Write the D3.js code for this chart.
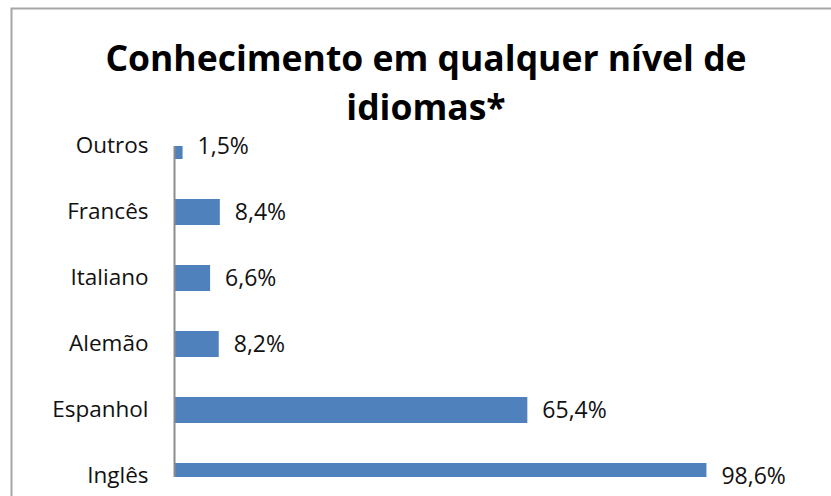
<!DOCTYPE html>
<html>
<head>
    <meta charset="utf-8">
    <script src="https://d3js.org/d3.v7.min.js"></script>
    <style>
        body { margin: 0; background: #fff; }
        text { font-family: "Open Sans", sans-serif; }
    </style>
</head>
<body>
	<svg id="chart" width="831" height="496"></svg>
	<script>
		var categories = ["Outros", "Francês", "Italiano", "Alemão", "Espanhol", "Inglês"];
		var values = [1.5, 8.4, 6.6, 8.2, 65.4, 98.6];
		var valueLabels = ["1,5%", "8,4%", "6,6%", "8,2%", "65,4%", "98,6%"];
		var titleLines = ["Conhecimento em qualquer nível de", "idiomas*"];

		var svg = d3.select("#chart"),
			width = +svg.attr("width"),
			height = +svg.attr("height");

		// chart frame (only top and left edges are visible)
		svg.append("path")
			.attr("d", "M11.5,496 V8.5 H831")
			.attr("fill", "none")
			.attr("stroke", "#a6a6a6")
			.attr("stroke-width", 2);

		// title
		svg.selectAll(".title")
			.data(titleLines)
			.enter()
			.append("text")
			.attr("class", "title")
			.attr("x", 426)
			.attr("y", function(d, i) { return 71 + i * 49; })
			.attr("text-anchor", "middle")
			.attr("font-size", 35.5)
			.attr("font-weight", "bold")
			.attr("fill", "#000")
			.text(function(d) { return d; });

		var x = d3.scaleLinear()
			.domain([0, 100])
			.range([174.5, 714]);

		var y = d3.scaleBand()
			.domain(categories)
			.range([113, 509])
			.paddingInner(0.606)
			.paddingOuter(0.303);

		var plotTop = 146, plotBottom = 477;

		svg.append("clipPath")
			.attr("id", "plotClip")
			.append("rect")
			.attr("x", 0)
			.attr("y", plotTop)
			.attr("width", width)
			.attr("height", plotBottom - plotTop);

		// bars
		svg.append("g")
			.attr("clip-path", "url(#plotClip)")
			.selectAll("rect")
			.data(values)
			.enter()
			.append("rect")
			.attr("x", x(0))
			.attr("y", function(d, i) { return y(categories[i]); })
			.attr("width", function(d) { return x(d) - x(0); })
			.attr("height", y.bandwidth())
			.attr("fill", "#4f81bd");

		// category axis
		var axis = svg.append("g")
			.attr("transform", "translate(" + x(0) + ",0)")
			.call(d3.axisLeft(y).tickSize(0).tickPadding(26));
		axis.select(".domain").remove();
		axis.selectAll("text")
			.attr("font-size", 22.5)
			.attr("fill", "#111")
			.style("font-family", "'Open Sans', sans-serif");

		svg.append("line")
			.attr("x1", x(0))
			.attr("x2", x(0))
			.attr("y1", plotTop)
			.attr("y2", plotBottom)
			.attr("stroke", "#8c8c8c")
			.attr("stroke-width", 2);

		// value labels
		svg.selectAll(".value")
			.data(values)
			.enter()
			.append("text")
			.attr("class", "value")
			.attr("x", function(d) { return x(d) + 15; })
			.attr("y", function(d, i) { return y(categories[i]) + y.bandwidth() / 2; })
			.attr("dy", "0.35em")
			.attr("font-size", 23)
			.attr("fill", "#111")
			.text(function(d, i) { return valueLabels[i]; });
	</script>
</body>
</html>
